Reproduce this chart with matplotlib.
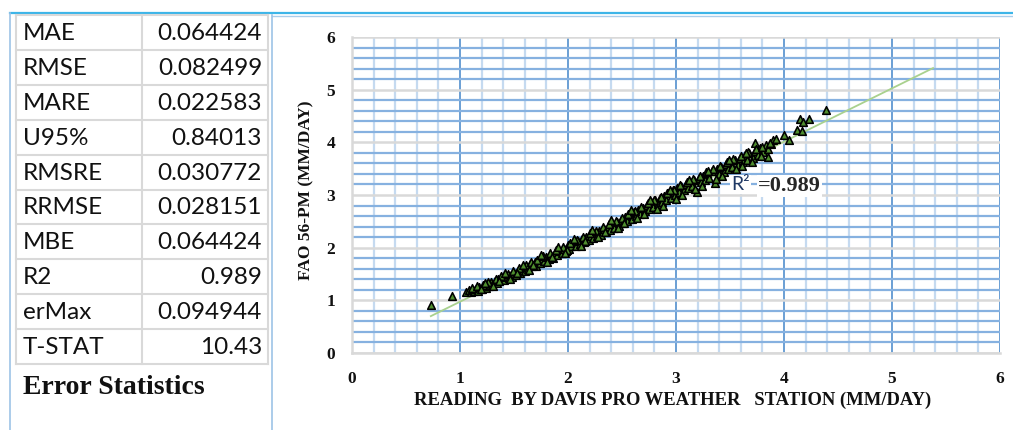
import numpy as np
import matplotlib
matplotlib.use("Agg")
import matplotlib.pyplot as plt
from matplotlib.lines import Line2D

# error statistics table
stat_names = ["MAE", "RMSE", "MARE", "U95%", "RMSRE", "RRMSE", "MBE", "R2", "erMax", "T-STAT"]
stat_values = ["0.064424", "0.082499", "0.022583", "0.84013", "0.030772",
               "0.028151", "0.064424", "0.989", "0.094944", "10.43"]

# scatter points (Davis reading, FAO 56-PM)
davis = [0.73, 0.93,
         1.06, 1.08, 1.10, 1.12, 1.13, 1.15, 1.17, 1.18, 1.20, 1.22, 1.24, 1.25, 1.27, 1.29, 1.30,
         1.32, 1.34, 1.35, 1.37, 1.39, 1.41, 1.43, 1.45, 1.47, 1.48, 1.50, 1.52, 1.54, 1.56, 1.58, 1.60,
         1.62, 1.63, 1.65, 1.67, 1.69, 1.70, 1.72, 1.74, 1.76, 1.78, 1.80, 1.82, 1.84, 1.86, 1.88, 1.90,
         1.92, 1.94, 1.96, 1.98, 2.00, 2.01,
         2.03, 2.05, 2.07, 2.09, 2.11, 2.13, 2.15, 2.17, 2.19, 2.21, 2.23, 2.25, 2.27, 2.29, 2.31, 2.33,
         2.35, 2.37, 2.39, 2.41, 2.43, 2.45, 2.47, 2.49,
         2.51, 2.53, 2.55, 2.57, 2.59, 2.61, 2.63, 2.65, 2.67, 2.69, 2.71, 2.73, 2.75, 2.77, 2.79, 2.81,
         2.83, 2.85, 2.87, 2.89, 2.91, 2.93, 2.95, 2.97, 2.99,
         3.01, 3.03, 3.05, 3.07, 3.09, 3.11, 3.13, 3.15, 3.17, 3.19, 3.21, 3.23, 3.25, 3.27, 3.29, 3.31,
         3.33, 3.36, 3.38, 3.40, 3.42, 3.44, 3.46, 3.48,
         3.50, 3.52, 3.55, 3.57, 3.59, 3.62, 3.64, 3.66, 3.68, 3.71, 3.73, 3.73, 3.76, 3.78, 3.81, 3.83,
         3.85, 3.85, 3.88, 3.90,
         4.00, 4.05, 4.12, 4.17, 4.15, 4.18, 4.23, 4.39,
         # second pass over the dense band
         1.11, 1.16, 1.21, 1.26, 1.33, 1.38, 1.44, 1.49, 1.55, 1.61, 1.66, 1.71, 1.77, 1.83, 1.89,
         1.95, 2.02, 2.08, 2.14, 2.20, 2.26, 2.32, 2.38, 2.44, 2.50, 2.56, 2.62, 2.68, 2.74, 2.80,
         2.86, 2.92, 2.98, 3.04, 3.10, 3.16, 3.22, 3.28, 3.34, 3.41, 3.47, 3.53, 3.60, 3.67, 3.74,
         3.80, 3.87, 3.93,
         1.19, 1.36, 1.53, 1.68, 1.85, 1.99, 2.16, 2.34, 2.52, 2.70, 2.88, 3.06, 3.24, 3.43, 3.61,
         3.79,
         # edges of the band
         1.23, 1.42, 1.58, 1.75, 1.91, 2.06, 2.22, 2.40, 2.58, 2.76, 2.94, 3.12, 3.30, 3.49, 3.65,
         1.31, 1.46, 1.64, 1.81, 1.97, 2.12, 2.28, 2.46, 2.64, 2.82, 3.00, 3.18, 3.37, 3.56, 3.70]
fao = [0.92, 1.08,
       1.16, 1.19, 1.15, 1.20, 1.17, 1.22, 1.18, 1.25, 1.22, 1.27, 1.24, 1.31, 1.28, 1.34, 1.30,
       1.36, 1.33, 1.40, 1.38, 1.42, 1.39, 1.45, 1.43, 1.48, 1.45, 1.51, 1.49, 1.55, 1.52, 1.58, 1.56,
       1.64, 1.59, 1.69, 1.65, 1.72, 1.66, 1.75, 1.71, 1.79, 1.74, 1.82, 1.78, 1.85, 1.81, 1.90, 1.86,
       1.93, 1.89, 1.97, 1.93, 2.06, 1.98,
       2.03, 2.09, 2.04, 2.12, 2.07, 2.16, 2.11, 2.20, 2.14, 2.23, 2.18, 2.27, 2.22, 2.31, 2.25, 2.35,
       2.29, 2.40, 2.33, 2.45, 2.38, 2.49, 2.42, 2.53,
       2.47, 2.58, 2.51, 2.62, 2.55, 2.67, 2.60, 2.72, 2.64, 2.76, 2.69, 2.81, 2.73, 2.86, 2.78, 2.90,
       2.82, 2.95, 2.86, 2.99, 2.91, 3.04, 2.95, 3.09, 3.00,
       3.14, 3.06, 3.18, 3.10, 3.21, 3.13, 3.25, 3.17, 3.29, 3.06, 3.33, 3.24, 3.37, 3.29, 3.41, 3.33,
       3.45, 3.22, 3.50, 3.40, 3.54, 3.44, 3.58, 3.49,
       3.62, 3.53, 3.67, 3.57, 3.71, 3.62, 3.76, 3.66, 3.80, 3.70, 3.84, 3.98, 3.76, 3.90, 3.82, 3.94,
       3.87, 3.73, 3.97, 4.04,
       4.14, 4.04, 4.23, 4.21, 4.45, 4.39, 4.45, 4.61,
       1.24, 1.27, 1.30, 1.35, 1.41, 1.46, 1.50, 1.56, 1.61, 1.67, 1.73, 1.77, 1.84, 1.89, 1.95,
       2.01, 2.08, 2.15, 2.20, 2.27, 2.32, 2.39, 2.44, 2.51, 2.57, 2.64, 2.70, 2.77, 2.84, 2.90,
       2.97, 3.03, 3.10, 3.19, 3.24, 3.31, 3.36, 3.43, 3.49, 3.56, 3.62, 3.68, 3.74, 3.81, 3.88,
       3.92, 3.99, 4.06,
       1.21, 1.37, 1.52, 1.68, 1.83, 1.96, 2.13, 2.30, 2.46, 2.64, 2.80, 3.00, 3.17, 3.37, 3.55,
       3.74,
       1.33, 1.52, 1.68, 1.86, 2.01, 2.17, 2.34, 2.52, 2.71, 2.90, 3.09, 3.28, 3.46, 3.66, 3.80,
       1.27, 1.40, 1.57, 1.73, 1.89, 2.04, 2.20, 2.38, 2.56, 2.74, 2.93, 3.11, 3.30, 3.49, 3.63]

# linear trendline end points
trend_x = [0.73, 5.38]
trend_y = [0.70, 5.41]
r2_text = "0.989"

x_ticks = [0, 1, 2, 3, 4, 5, 6]
y_ticks = [0, 1, 2, 3, 4, 5, 6]

W, H = 1013, 430
fig = plt.figure(figsize=(W / 100, H / 100), dpi=100)
fig.patch.set_facecolor("white")


def fx(px):
    return px / W


def fy(py):
    return 1 - py / H


def hline(x0, x1, y, color, lw):
    fig.add_artist(Line2D([fx(x0), fx(x1)], [fy(y), fy(y)], color=color, lw=lw))


def vline(x, y0, y1, color, lw):
    fig.add_artist(Line2D([fx(x), fx(x)], [fy(y0), fy(y1)], color=color, lw=lw))


# panel frames
hline(10, W, 13, "#3DB5E8", 1.6)
hline(272, W, 15.5, "#A9CDEB", 1.0)
vline(10, 13, H, "#9DC3E6", 1.2)
vline(272, 15, H, "#9DC3E6", 1.2)

# table
row_top = 15
row_h = 34.9
tcol = "#D9D9D9"
for i in range(len(stat_names) + 1):
    hline(16, 268, row_top + i * row_h, tcol, 1.5)
for xx in (16, 142, 268):
    vline(xx, row_top, row_top + len(stat_names) * row_h, tcol, 1.5)
for i, (name, val) in enumerate(zip(stat_names, stat_values)):
    yc = row_top + (i + 0.5) * row_h + 1
    fig.text(fx(23), fy(yc), name, fontsize=17.5, family="Lato", color="#111111",
             ha="left", va="center")
    fig.text(fx(262), fy(yc), val, fontsize=17.5, family="Lato", color="#111111",
             ha="right", va="center")
fig.text(fx(23), fy(387), "Error Statistics", fontsize=20, family="Liberation Serif",
         weight="bold", color="#111111", ha="left", va="center")

# scatter chart
ax = fig.add_axes([fx(352), fy(353), fx(1000) - fx(352), fy(37) - fy(353)])
ax.set_xlim(0, 6)
ax.set_ylim(0, 6)
ax.set_xticks(x_ticks)
ax.set_yticks(y_ticks)
ax.set_xticks(np.arange(0, 6.01, 0.2), minor=True)
ax.set_yticks(np.arange(0, 6.01, 0.2), minor=True)
ax.grid(axis="x", which="minor", color="#C5DAF0", lw=1.6)
ax.grid(axis="x", which="major", color="#6A9FD4", lw=1.4)
ax.grid(axis="y", which="minor", color="#86B1E0", lw=1.6)
ax.grid(axis="y", which="major", color="#D9D9D9", lw=1.8)
ax.set_axisbelow(True)
for s in ("top", "right"):
    ax.spines[s].set_visible(False)
for s in ("left", "bottom"):
    ax.spines[s].set_color("#D9D9D9")
    ax.spines[s].set_linewidth(1.8)
ax.tick_params(which="both", length=0)
ax.tick_params(axis="x", pad=13)
ax.tick_params(axis="y", pad=12)
for lab in ax.get_xticklabels() + ax.get_yticklabels():
    lab.set_fontfamily("Liberation Serif")
    lab.set_fontweight("bold")
    lab.set_fontsize(12.5)
    lab.set_color("#111111")

ax.plot(trend_x, trend_y, color="#A9D18E", lw=1.3, zorder=2)
ax.scatter(davis, fao, marker="^", s=30, facecolor="#4F8E2E", edgecolor="black",
           linewidths=1.15, zorder=3)

ax.text(3.51, 3.2, "R\u00b2", fontsize=14, family="Lato", color="#1F3864",
        ha="left", va="center", zorder=4,
        bbox=dict(facecolor="white", edgecolor="none", pad=1))
ax.text(3.76, 3.17, "=" + r2_text, fontsize=16, family="Liberation Serif", weight="bold",
        color="#262626", ha="left", va="center", zorder=4,
        bbox=dict(facecolor="white", edgecolor="none", pad=1))

fig.text(fx(673), fy(400), "READING  BY DAVIS PRO WEATHER   STATION (MM/DAY)",
         fontsize=13.4, family="Liberation Serif", weight="bold", color="#111111",
         ha="center", va="center")
fig.text(fx(306), fy(190), "FAO 56-PM (MM/DAY)", rotation=90,
         fontsize=12.5, family="Liberation Serif", weight="bold", color="#111111",
         ha="center", va="center")

fig.savefig("out.png", dpi=100)
